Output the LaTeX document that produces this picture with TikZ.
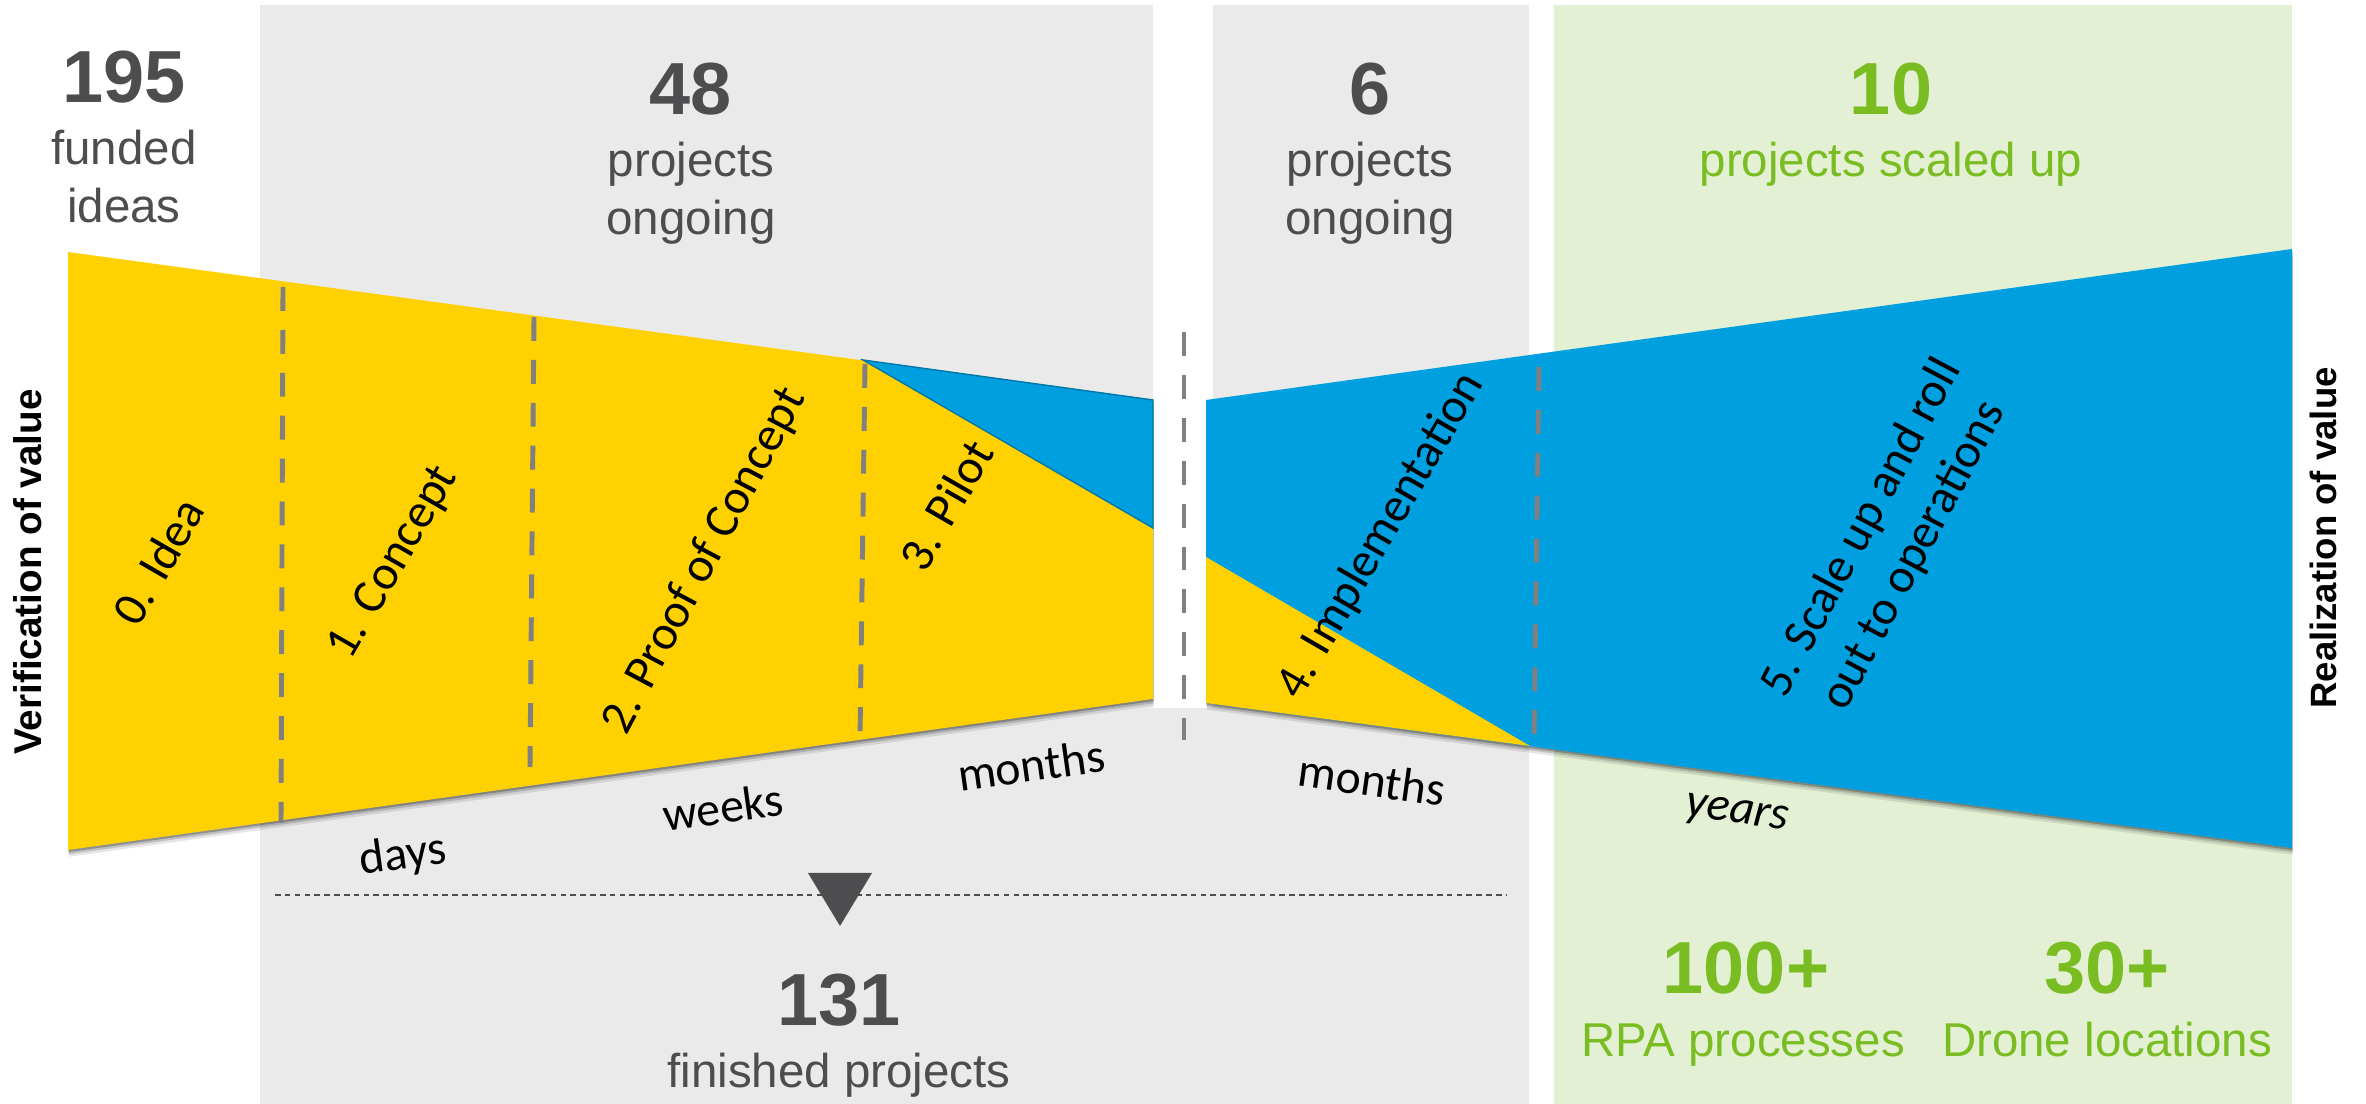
\documentclass[tikz,border=0pt]{standalone}
\usepackage{fontspec}
\setmainfont{Liberation Sans}
\newfontfamily\calib{Carlito}
\definecolor{fyellow}{RGB}{255,209,0}
\definecolor{fblue}{RGB}{0,159,223}
\definecolor{pgray}{RGB}{233,234,233}
\definecolor{pgreen}{RGB}{227,240,212}
\definecolor{tgreen}{RGB}{122,189,34}
\definecolor{tgray}{RGB}{77,77,79}
\definecolor{dgray}{RGB}{128,128,128}
\begin{document}
\begin{tikzpicture}[x=0.01cm,y=-0.01cm,
  bignum/.style={font=\bfseries\fontsize{21}{25}\selectfont, text=tgray, anchor=base, inner sep=0pt},
  subtxt/.style={font=\fontsize{13.5}{16}\selectfont, text=tgray, anchor=base, inner sep=0pt},
  stage/.style={font=\calib\fontsize{13.8}{16.8}\selectfont, rotate=60, align=center, inner sep=0pt},
  timelbl/.style={font=\calib\fontsize{13.6}{16}\selectfont, inner sep=0pt},
  sidelbl/.style={font=\bfseries\fontsize{11}{13}\selectfont, rotate=90, inner sep=0pt},
  phase/.style={draw=dgray, line width=1.4pt, dash pattern=on 6.8pt off 5.4pt},
  fshadow/.style={
    preaction={fill=black, opacity=0.10, transform canvas={xshift=0.3pt, yshift=-1.9pt}},
    preaction={fill=black, opacity=0.16, transform canvas={xshift=0.2pt, yshift=-1.2pt}},
    preaction={fill=black, opacity=0.25, transform canvas={xshift=0.1pt, yshift=-0.6pt}}}
]
\useasboundingbox (0,0) rectangle (2366,1104);
% panels
\fill[pgray] (260,5) rectangle (1153,1104);
\fill[pgray] (1213,5) rectangle (1529,1104);
\fill[pgray] (1150,708) rectangle (1216,1104);
\fill[pgreen] (1554,5) rectangle (2292,1104);

% left funnel
\fill[fyellow, fshadow] (68,252) -- (1153,400) -- (1153,699) -- (68,850) -- cycle;
\filldraw[fill=fblue, draw=fblue!75!black, line width=0.4pt] (863,360) -- (1153,400) -- (1153,528) -- cycle;

% right funnel
\fill[fblue, fshadow] (1206,400) -- (2292,249) -- (2292,848) -- (1206,703) -- cycle;
\fill[fyellow] (1206,557) -- (1530,746) -- (1206,703) -- cycle;

% phase lines
\draw[phase] (283,287) -- (281,823);
\draw[phase] (534,317) -- (530,767);
\draw[phase] (865,364) -- (860,738);
\draw[phase] (1184,332) -- (1184,740);
\draw[phase] (1539,367) -- (1534,740);

% finished line and marker
\draw[tgray, line width=0.5pt, dash pattern=on 1.6pt off 1.2pt] (275,895) -- (1506,895);
\fill[tgray] (808,873) -- (872,873) -- (840,926) -- cycle;

% headers
\node[bignum] (n195) at (124,103) {195};
\node[subtxt] (t195a) at (124,165) {funded};
\node[subtxt] (t195b) at (124,223) {ideas};

\node[bignum] (n48) at (691,115) {48};
\node[subtxt] (t48a) at (691,177) {projects};
\node[subtxt] (t48b) at (691,235) {ongoing};

\node[bignum] (n6) at (1370,115) {6};
\node[subtxt] (t6a) at (1370,177) {projects};
\node[subtxt] (t6b) at (1370,235) {ongoing};

\node[bignum, text=tgreen] (n10) at (1891,115) {10};
\node[subtxt, text=tgreen] (t10) at (1891,177) {projects scaled up};

\node[bignum] (n131) at (839,1026) {131};
\node[subtxt] (t131) at (839,1088) {finished projects};

\node[bignum, text=tgreen] (n100) at (1746,994) {100+};
\node[subtxt, text=tgreen] (t100) at (1743,1057) {RPA processes};
\node[bignum, text=tgreen] (n30) at (2107,994) {30+};
\node[subtxt, text=tgreen] (t30) at (2107,1057) {Drone locations};

% side labels
\node[sidelbl] (verif) at (28,572) {Verification of value};
\node[sidelbl, font=\bfseries\fontsize{10.4}{13}\selectfont] (real) at (2323,538) {Realization of value};

% stage labels
\node[stage] (s0) at (158,561) {0. Idea};
\node[stage] (s1) at (394,563) {1. Concept};
\node[stage, rotate=2] (s2) at (705,561) {2. Proof of Concept};
\node[stage] (s3) at (946,505) {3. Pilot};
\node[stage] (s4) at (1381,536) {4. Implementation};
\node[stage, rotate=2] (s5) at (1888,542) {5. Scale up and roll\\out to operations};

% time labels
\node[timelbl, rotate=8] (days) at (403,856) {days};
\node[timelbl, rotate=8] (weeks) at (723,807) {weeks};
\node[timelbl, rotate=8] (m1) at (1031,765) {months};
\node[timelbl, rotate=-8] (m2) at (1372,780) {months};
\node[timelbl, rotate=-8, font=\calib\itshape\fontsize{13.6}{16}\selectfont] (years) at (1737,815) {years};
\end{tikzpicture}
\end{document}
